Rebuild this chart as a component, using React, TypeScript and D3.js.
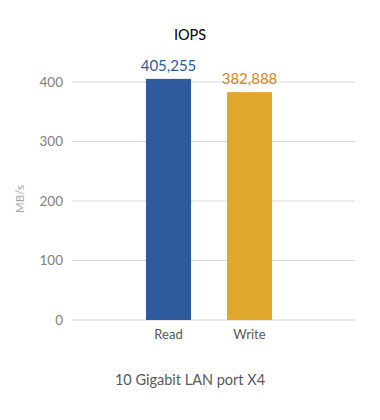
import React from "react";
import * as d3 from "d3";

const categories = ["Read", "Write"];
const values = [405.255, 382.888];
const valueLabels = ["405,255", "382,888"];
const barColors = ["#2D5B9E", "#E0A72D"];
const labelColors = ["#2D5B9E", "#D08A10"];
const yTicks = [0, 100, 200, 300, 400];

export default function App() {
  const W = 380, H = 420;
  const plotLeft = 72, plotRight = 355;
  const y = d3.scaleLinear().domain([0, 400]).range([320, 82]);
  const x = d3.scaleBand<string>().domain(categories).range([128, 290]).paddingInner(0.444).paddingOuter(0.222);
  const font = "Lato, 'Open Sans', sans-serif";
  return (
    <svg width={W} height={H} style={{ position: "absolute", left: 0, top: 0, background: "#fff" }} fontFamily={font}>
      <text x={190} y={40} textAnchor="middle" fontSize={14.5} fill="#000">IOPS</text>
      {yTicks.map(t => (
        <g key={t}>
          <line x1={plotLeft} x2={plotRight} y1={y(t)} y2={y(t)} stroke="#d9d9d9" strokeWidth={1} />
          <text x={63} y={y(t) + 4.5} textAnchor="end" fontSize={13.5} fill="#7f7f7f">{t}</text>
        </g>
      ))}
      <text transform={`translate(24,199) rotate(-90)`} textAnchor="middle" fontSize={11.5} fill="#a6a6a6">MB/s</text>
      {categories.map((c, i) => (
        <g key={c}>
          <rect x={x(c)} y={y(values[i])} width={x.bandwidth()} height={y(0) - y(values[i])} fill={barColors[i]} />
          <text x={(x(c) as number) + x.bandwidth() / 2} y={y(values[i]) - 8} textAnchor="middle" fontSize={15} fill={labelColors[i]}>{valueLabels[i]}</text>
          <text x={(x(c) as number) + x.bandwidth() / 2} y={339} textAnchor="middle" fontSize={13} fill="#595959">{c}</text>
        </g>
      ))}
      <text x={190} y={385} textAnchor="middle" fontSize={14.5} fill="#595959">10 Gigabit LAN port X4</text>
    </svg>
  );
}
